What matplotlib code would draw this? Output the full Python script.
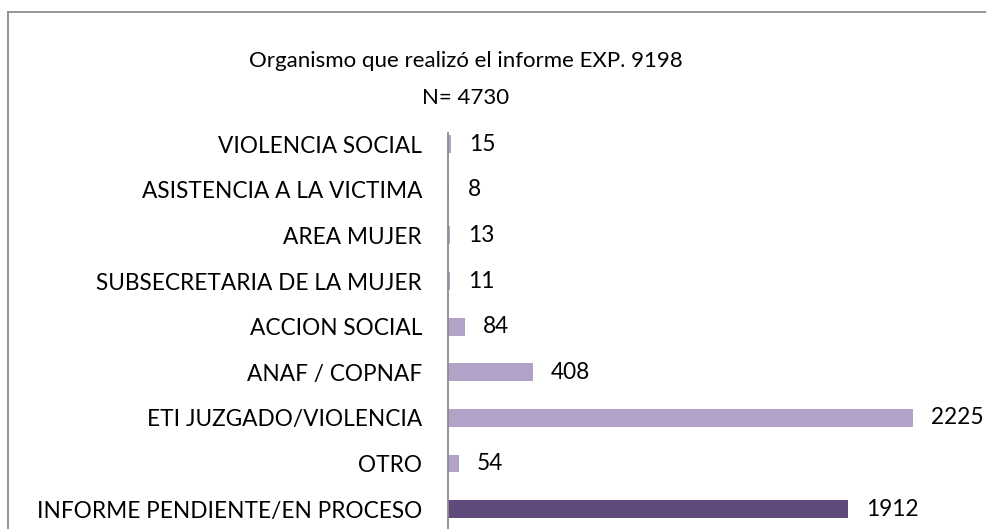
import matplotlib.pyplot as plt
from matplotlib.lines import Line2D

categories = ["VIOLENCIA SOCIAL", "ASISTENCIA A LA VICTIMA", "AREA MUJER",
              "SUBSECRETARIA DE LA MUJER", "ACCION SOCIAL", "ANAF / COPNAF",
              "ETI JUZGADO/VIOLENCIA", "OTRO", "INFORME PENDIENTE/EN PROCESO"]
values = [15, 8, 13, 11, 84, 408, 2225, 54, 1912]
bar_colors = ["#B3A2C7"] * 8 + ["#604A7B"]

plt.rcParams['font.family'] = ['Lato', 'DejaVu Sans']

W, H = 987, 529
fig = plt.figure(figsize=(W / 100, H / 100), dpi=100)

# chart frame (only top and left edges fall inside the crop)
fx, fy = 8.3 / W, 1 - 11.7 / H
fig.add_artist(Line2D([fx, fx], [-0.05, fy], transform=fig.transFigure,
                      color="#8c8c8c", linewidth=1.3))
fig.add_artist(Line2D([fx, 1.05], [fy, fy], transform=fig.transFigure,
                      color="#8c8c8c", linewidth=1.3))

left, top = 447.7, 132.7
ax = fig.add_axes([left / W, (H - 532) / H, 523 / W, (532 - top) / H])
ypos = list(range(len(categories)))
ax.barh(ypos, values, height=0.39, color=bar_colors)
ax.set_xlim(0, 2500)
ax.set_ylim(8.5, -0.25)

ax.set_yticks(ypos)
ax.set_yticklabels(categories, fontsize=16.3)
ax.tick_params(axis='y', length=0, pad=18.5)
ax.set_xticks([])
for s in ["top", "right", "bottom"]:
    ax.spines[s].set_visible(False)
ax.spines["left"].set_color("#8c8c8c")
ax.spines["left"].set_linewidth(1.3)

for y, v in zip(ypos, values):
    ax.annotate(str(v), (v, y), xytext=(13, 0), textcoords="offset points",
                va="center", ha="left", fontsize=16.3)

fig.text(466 / W, 1 - 61 / H, "Organismo que realizó el informe EXP. 9198",
         ha="center", va="center", fontsize=16)
fig.text(466 / W, 1 - 98 / H, "N= 4730", ha="center", va="center", fontsize=16)

fig.savefig("out.png", dpi=100)
